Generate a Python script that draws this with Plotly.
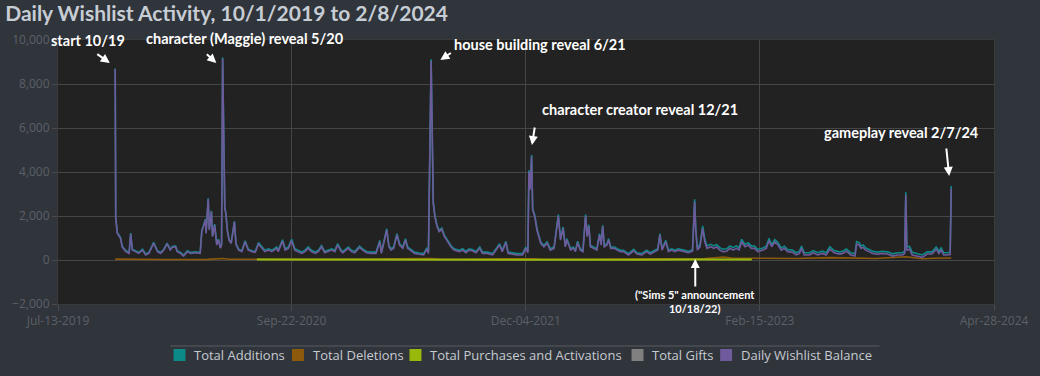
import pandas as pd
import plotly.graph_objects as go

# ---------------- data ----------------
start_date = "2019-10-01"  # day 0 of the offsets below

day_offset = [27, 28, 31, 34, 37, 40, 47, 53, 56, 59, 65, 71, 78, 84, 90, 99, 106, 112, 118, 124,
              130, 134, 140, 143, 149, 155, 162, 168, 177, 186, 189, 192, 196, 197, 201, 203, 207, 209, 213, 217,
              220, 224, 226, 228, 232, 234, 237, 240, 244, 250, 253, 258, 264, 270, 276, 283, 289,
              295, 301, 307, 314, 320, 329, 332, 340, 345, 351, 357, 363, 369, 376, 382, 388, 394, 401, 407,
              413, 419, 425, 432, 438, 443, 450, 453, 463, 469, 475, 484, 490, 497, 506, 515, 522, 525, 530, 535,
              539, 543, 548, 554, 559, 565, 570, 574, 579, 587, 596, 604, 610, 613, 618, 622, 625, 629, 633, 638,
              643, 649, 655, 661, 671, 677, 683, 689, 695, 702, 709, 714, 723, 733, 742, 746, 751, 758, 762, 770,
              779, 789, 795, 799, 801, 803, 806, 808, 812, 816, 823, 829, 835, 841, 848, 856, 860, 865, 869, 872,
              879, 884, 888, 892, 897, 902, 907, 910, 913, 916, 922, 928, 933, 936, 939, 942, 947, 950, 954, 961,
              966, 972, 978, 987, 997, 1003, 1012, 1021, 1028, 1037, 1042, 1046, 1050, 1057, 1062, 1068, 1074, 1080, 1087, 1093,
              1099, 1107, 1111, 1113, 1116, 1121, 1126, 1130, 1134, 1141, 1147, 1152, 1158, 1164, 1171, 1177, 1183, 1189, 1194, 1199,
              1205, 1211, 1217, 1223, 1229, 1239, 1245, 1250, 1255, 1261, 1267, 1273, 1279, 1285, 1294, 1301, 1307, 1311, 1316, 1326,
              1333, 1341, 1350, 1357, 1364, 1372, 1382, 1388, 1395, 1403, 1411, 1414, 1419, 1422, 1426, 1431, 1437, 1444, 1453, 1462,
              1472, 1481, 1490, 1500, 1504, 1506, 1508, 1513, 1518, 1527, 1537, 1546, 1555, 1563, 1568, 1572, 1577, 1583, 1589, 1591]

wishlist_balance = [8667, 1880, 1210, 1060, 985, 600, 380, 300, 1180, 450, 380, 300, 450, 230, 300, 760, 380, 300, 450, 730,
                    450, 575, 600, 380, 300, 180, 380, 300, 330, 300, 1290, 1515, 1820, 1210, 2760, 1360, 2200, 1060, 1590, 680,
                    910, 530, 700, 9150, 2350, 2100, 1300, 900, 750, 1720, 700, 450, 380, 830, 450, 380, 350,
                    730, 530, 380, 450, 380, 530, 380, 860, 450, 530, 880, 450, 380, 300, 380, 530, 380, 300, 380,
                    600, 330, 380, 450, 380, 680, 380, 330, 530, 380, 330, 575, 450, 330, 300, 300, 830, 300, 830, 1360,
                    600, 450, 530, 1140, 680, 530, 910, 530, 450, 300, 260, 230, 490, 300, 9050, 2570, 1970, 1520, 1290, 1390,
                    1060, 830, 600, 450, 380, 450, 330, 450, 420, 330, 530, 300, 300, 230, 530, 680, 380, 790, 300, 270,
                    230, 230, 530, 330, 4015, 3200, 4700, 2270, 1970, 1360, 760, 600, 760, 450, 530, 2000, 910, 1440, 600, 910,
                    450, 530, 380, 790, 450, 380, 2000, 1060, 1545, 600, 530, 450, 1140, 680, 1515, 600, 680, 910, 530, 530,
                    450, 380, 380, 230, 420, 270, 230, 380, 270, 380, 450, 1140, 450, 830, 380, 450, 380, 450, 420, 380,
                    330, 400, 2650, 1360, 450, 600, 1440, 830, 530, 600, 530, 600, 450, 380, 400, 530, 450, 530, 450, 830,
                    600, 680, 530, 530, 380, 450, 530, 880, 600, 830, 680, 450, 530, 380, 350, 230, 300, 530, 230, 230,
                    330, 230, 300, 230, 490, 330, 270, 300, 400, 230, 180, 730, 680, 530, 575, 450, 380, 300, 260, 300,
                    270, 180, 230, 230, 300, 2950, 450, 490, 230, 180, 120, 270, 270, 490, 300, 450, 230, 230, 250, 3250]

total_additions = [8707, 1920, 1250, 1100, 1025, 640, 420, 340, 1220, 490, 420, 340, 490, 270, 340, 800, 420, 340, 490, 770,
                   490, 615, 640, 420, 340, 220, 420, 340, 370, 340, 1330, 1555, 1860, 1250, 2800, 1400, 2240, 1100, 1630, 720,
                   950, 570, 740, 9200, 2400, 2140, 1340, 940, 790, 1760, 740, 490, 420, 870, 490, 420, 390,
                   790, 590, 440, 510, 440, 590, 440, 920, 510, 590, 940, 510, 440, 360, 440, 590, 440, 360, 440,
                   660, 390, 440, 510, 440, 740, 440, 390, 590, 440, 390, 635, 510, 390, 360, 360, 890, 360, 890, 1420,
                   660, 510, 590, 1200, 740, 590, 970, 590, 510, 360, 320, 290, 550, 360, 9120, 2640, 2030, 1580, 1350, 1450,
                   1120, 890, 660, 510, 440, 510, 390, 510, 480, 390, 590, 360, 360, 290, 590, 740, 440, 850, 360, 330,
                   290, 290, 590, 390, 4080, 3260, 4770, 2330, 2030, 1420, 820, 660, 820, 510, 590, 2060, 970, 1500, 660, 970,
                   510, 590, 440, 850, 510, 440, 2060, 1120, 1605, 660, 590, 510, 1200, 740, 1575, 660, 740, 970, 590, 590,
                   510, 440, 440, 290, 480, 330, 290, 440, 330, 440, 510, 1200, 510, 890, 440, 510, 440, 510, 480, 440,
                   390, 470, 2760, 1460, 560, 710, 1550, 940, 640, 710, 640, 710, 560, 490, 510, 640, 560, 640, 560, 940,
                   710, 790, 640, 630, 480, 550, 630, 980, 700, 930, 780, 550, 630, 480, 450, 330, 400, 630, 330, 330,
                   430, 330, 400, 330, 600, 430, 370, 400, 500, 330, 280, 840, 790, 630, 680, 550, 480, 400, 360, 400,
                   370, 280, 330, 330, 400, 3080, 600, 620, 350, 280, 230, 370, 370, 590, 400, 550, 330, 330, 350, 3360]

deletions_offset = [27, 60, 120, 200, 228, 240, 300, 420, 618, 640, 806, 830, 950, 1050, 1111, 1130, 1150, 1165, 1180,
                    1218, 1260, 1300, 1364, 1400, 1450, 1506, 1515, 1537, 1560, 1591]
total_deletions = [40, 25, 25, 30, 70, 35, 30, 30, 70, 35, 60, 35, 40, 45, 80, 70, 100, 130, 90,
                   90, 80, 70, 110, 80, 70, 150, 120, 60, 80, 90]

purchases_offset = [292, 400, 520, 618, 700, 806, 900, 1000, 1111, 1218]
total_purchases = [20, 15, 15, 25, 15, 20, 15, 15, 25, 20]

series_names = ["Total Additions", "Total Deletions", "Total Purchases and Activations",
                "Total Gifts", "Daily Wishlist Balance"]
series_colors = ["#0c8a87", "#8d5a0c", "#98b90c", "#808080", "#6e5a9c"]

x_tick_dates = ["2019-07-13", "2020-09-22", "2021-12-04", "2023-02-15", "2024-04-28"]
x_tick_labels = ["Jul-13-2019", "Sep-22-2020", "Dec-04-2021", "Feb-15-2023", "Apr-28-2024"]
y_ticks = [-2000, 0, 2000, 4000, 6000, 8000, 10000]

# ---------------- build ----------------
t0 = pd.Timestamp(start_date)
def to_dates(offs):
    return t0 + pd.to_timedelta(offs, unit="D")

fig = go.Figure()
line_w = 1.6
fig.add_trace(go.Scatter(x=to_dates(day_offset), y=total_additions, mode="lines", name=series_names[0],
                         line=dict(color=series_colors[0], width=line_w)))
fig.add_trace(go.Scatter(x=to_dates(deletions_offset), y=total_deletions, mode="lines", name=series_names[1],
                         line=dict(color=series_colors[1], width=line_w)))
fig.add_trace(go.Scatter(x=to_dates(purchases_offset), y=total_purchases, mode="lines", name=series_names[2],
                         line=dict(color=series_colors[2], width=2)))
fig.add_trace(go.Scatter(x=to_dates(day_offset), y=wishlist_balance, mode="lines", name=series_names[4],
                         line=dict(color=series_colors[4], width=line_w)))

# plot area in pixels: left 57, right 997, top 40, bottom 304
def px_x(p):
    return (p - 57) / 940.0
def px_y(p):
    return (304 - p) / 264.0

txt_font = dict(family="Lato, 'Open Sans', sans-serif", size=14.5, color="#ffffff")
ann = []
shapes = []
def text_ann(t, x, y, size=14.5):
    f = dict(txt_font); f["size"] = size
    ann.append(dict(text=t, x=x, y=y, xref="paper", yref="paper", showarrow=False,
                    xanchor="center", yanchor="middle", font=f))
def arrow_ann(x, y, ax, ay):
    ann.append(dict(text="", x=x, y=y, xref="paper", yref="paper", showarrow=True,
                    ax=ax, ay=ay, arrowhead=2, arrowsize=0.9, arrowwidth=2, arrowcolor="#ffffff"))

text_ann("<b>start 10/19</b>", px_x(87.5), px_y(40))
text_ann("<b>character (Maggie) reveal 5/20</b>", px_x(245), px_y(39))
text_ann("<b>house building reveal 6/21</b>", px_x(541), px_y(44))
text_ann("<b>character creator reveal 12/21</b>", px_x(641.5), px_y(109))
text_ann("<b>gameplay reveal 2/7/24</b>", px_x(904.5), px_y(132))
text_ann("<b>(\"Sims 5\" announcement<br>10/18/22)</b>", px_x(697), px_y(301), size=11)

arrow_ann(px_x(109), px_y(63), -14, -10)
arrow_ann(px_x(216), px_y(63), -11, -10)
arrow_ann(px_x(441), px_y(60), 12, -8)
arrow_ann(px_x(533), px_y(145), 3, -19)
arrow_ann(px_x(952), px_y(176), -3, -29)
arrow_ann(px_x(697), px_y(259), 0, 29)

# legend drawn manually (square swatch + label)
legend_sq_left = [173, 292, 410, 633, 722]
for name, col, sx in zip(series_names, series_colors, legend_sq_left):
    shapes.append(dict(type="rect", xref="paper", yref="paper",
                       x0=px_x(sx), x1=px_x(sx + 12), y0=px_y(361), y1=px_y(349),
                       fillcolor=col, line=dict(width=0)))
    ann.append(dict(text=name, x=px_x(sx + 19), y=px_y(355), xref="paper", yref="paper",
                    showarrow=False, xanchor="left", yanchor="middle",
                    font=dict(family="'Open Sans', sans-serif", size=13, color="#c6cbd1")))
shapes.append(dict(type="line", xref="paper", yref="paper", x0=px_x(170), x1=px_x(882),
                   y0=px_y(346), y1=px_y(346), line=dict(color="#4b4f56", width=1.5)))

axis_font = dict(family="'Open Sans', sans-serif", size=12, color="#5c6068")

fig.update_layout(
    width=1040, height=376,
    margin=dict(l=57, r=43, t=40, b=72),
    paper_bgcolor="#30343b",
    plot_bgcolor="#222222",
    title=dict(text="<b>Daily Wishlist Activity, 10/1/2019 to 2/8/2024</b>",
               x=0.005, xanchor="left", y=0.963, yanchor="middle",
               font=dict(family="Lato, sans-serif", size=21, color="#c7cdd4")),
    xaxis=dict(type="date", range=[x_tick_dates[0], x_tick_dates[-1]],
               tickvals=x_tick_dates, ticktext=x_tick_labels,
               showgrid=True, gridcolor="#464646", gridwidth=1,
               ticks="outside", ticklen=6, tickcolor="#4a4a4a",
               showline=True, linecolor="#3a3a3a", linewidth=1, mirror=True,
               tickfont=axis_font, zeroline=False, fixedrange=True),
    yaxis=dict(range=[y_ticks[0], y_ticks[-1]], tickvals=y_ticks, tickformat=",d",
               showgrid=True, gridcolor="#464646", gridwidth=1,
               ticks="outside", ticklen=5, tickcolor="#4a4a4a",
               showline=True, linecolor="#3a3a3a", linewidth=1, mirror=True,
               tickfont=axis_font, zeroline=False, fixedrange=True),
    annotations=ann,
    shapes=shapes,
    showlegend=False,
)

fig.write_html("out.html", config={"displayModeBar": False},
               post_script="document.body.style.margin='0';")
